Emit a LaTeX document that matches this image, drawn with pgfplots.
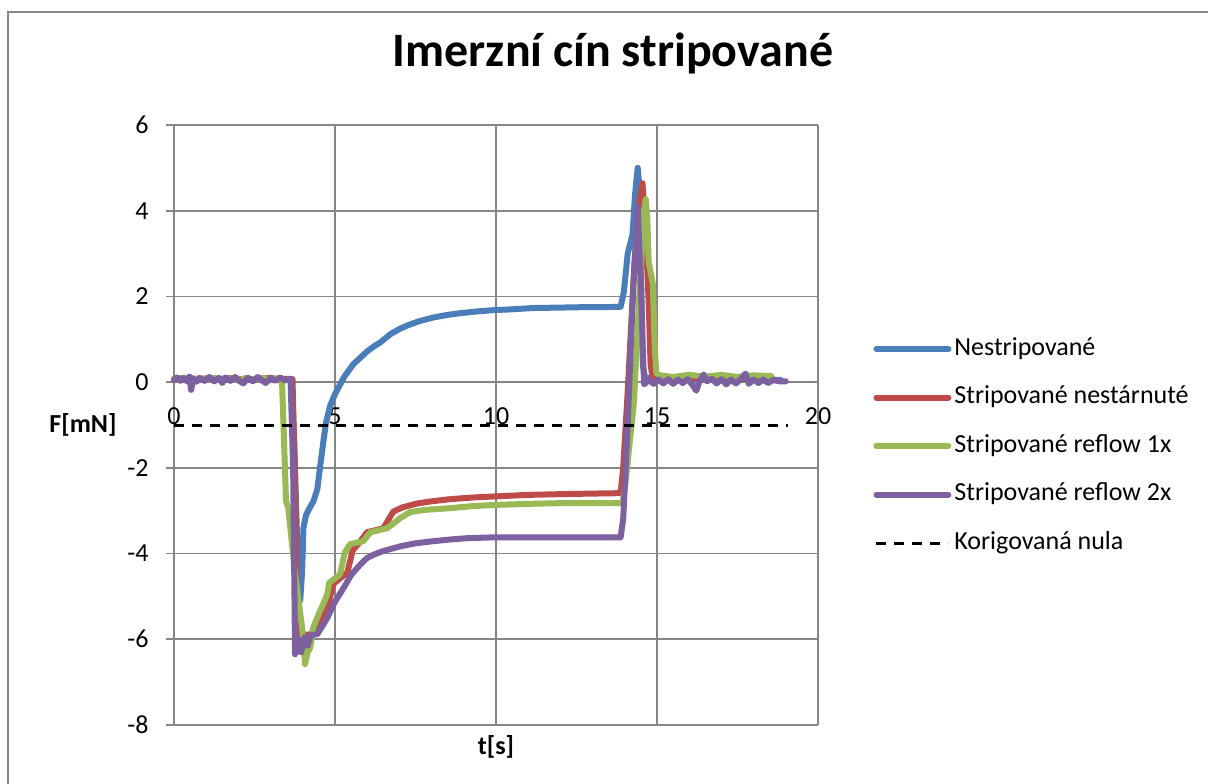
\documentclass[border=0pt]{standalone}
\usepackage{fontspec}
\setmainfont{Carlito}
\usepackage{pgfplots}
\usepackage{pgfplotstable}
\pgfplotsset{compat=1.18}

\definecolor{cBlue}{HTML}{4A7EBB}
\definecolor{cRed}{HTML}{BE4B48}
\definecolor{cGreen}{HTML}{98B954}
\definecolor{cPurple}{HTML}{7D60A0}
\definecolor{gridgray}{HTML}{868686}

% t [s]   F [mN]
\pgfplotstableread{
t F
0.00 0.06
0.25 0.09
0.50 0.04
0.75 0.08
1.00 0.05
1.25 0.09
1.50 0.05
1.75 0.08
2.00 0.04
2.25 0.08
2.50 0.06
2.75 0.09
3.00 0.05
3.25 0.08
3.50 0.06
3.66 0.07
3.74 -1.50
3.82 -3.60
3.92 -5.10
3.98 -4.40
4.02 -3.40
4.10 -3.10
4.20 -2.95
4.33 -2.78
4.45 -2.50
4.55 -1.90
4.64 -1.38
4.72 -0.95
4.85 -0.55
5.00 -0.28
5.16 -0.05
5.30 0.14
5.57 0.42
5.80 0.58
6.00 0.72
6.20 0.83
6.41 0.93
6.72 1.12
7.00 1.24
7.24 1.32
7.60 1.42
8.06 1.51
8.50 1.57
8.90 1.61
9.40 1.65
9.92 1.68
10.50 1.70
11.17 1.73
12.00 1.74
12.72 1.75
13.40 1.75
13.87 1.76
13.97 2.10
14.09 3.00
14.24 3.45
14.32 4.40
14.40 5.00
14.45 4.60
14.50 2.60
14.56 0.40
14.62 0.12
14.80 0.08
15.00 0.10
15.50 0.06
16.00 0.09
16.50 0.05
17.00 0.08
17.50 0.06
18.00 0.09
18.50 0.06
18.85 0.05
}\nestrip

\pgfplotstableread{
t F
0.00 0.08
0.25 0.05
0.50 0.10
0.75 0.06
1.00 0.09
1.25 0.05
1.50 0.08
1.75 0.10
2.00 0.06
2.25 0.09
2.50 0.05
2.75 0.08
3.00 0.10
3.25 0.06
3.50 0.08
3.68 0.07
3.76 -2.50
3.84 -6.30
3.95 -6.20
4.01 -5.88
4.20 -5.90
4.45 -5.74
4.60 -5.50
4.76 -5.27
4.95 -4.71
5.20 -4.55
5.38 -4.45
5.55 -3.92
5.75 -3.75
6.00 -3.50
6.50 -3.41
6.81 -3.02
7.10 -2.92
7.56 -2.83
8.00 -2.78
8.58 -2.73
9.30 -2.69
10.14 -2.66
11.00 -2.63
12.22 -2.61
13.00 -2.60
13.87 -2.59
13.95 -2.00
14.10 -0.10
14.30 2.80
14.45 4.20
14.55 4.64
14.65 3.45
14.74 1.89
14.80 0.42
14.86 0.12
15.00 0.10
15.50 0.07
16.00 0.11
16.50 0.06
17.00 0.10
17.50 0.07
18.00 0.11
18.60 0.08
}\nestarnute

\pgfplotstableread{
t F
0.00 0.07
0.25 0.10
0.50 0.05
0.75 0.09
1.00 0.06
1.25 0.10
1.50 0.06
1.75 0.09
2.00 0.05
2.25 0.09
2.50 0.06
2.75 0.10
3.00 0.06
3.20 0.09
3.33 0.07
3.36 -0.10
3.48 -2.78
3.55 -2.94
3.75 -4.40
3.98 -5.74
4.07 -6.58
4.15 -6.30
4.23 -6.20
4.32 -5.74
4.50 -5.40
4.62 -5.20
4.76 -4.95
4.82 -4.68
5.00 -4.58
5.16 -4.48
5.30 -3.98
5.47 -3.78
5.88 -3.71
6.10 -3.50
6.62 -3.41
7.03 -3.17
7.34 -3.03
7.80 -2.98
8.58 -2.94
9.30 -2.89
10.14 -2.86
11.00 -2.84
12.22 -2.82
13.00 -2.82
13.93 -2.82
14.00 -2.50
14.28 -0.50
14.45 2.00
14.60 4.00
14.65 4.27
14.70 3.80
14.74 2.82
14.87 2.29
14.93 0.80
14.98 0.20
15.10 0.16
15.50 0.12
16.00 0.17
16.50 0.13
17.00 0.17
17.50 0.12
18.00 0.16
18.55 0.14
}\reflowA

\pgfplotstableread{
t F
0.00 0.05
0.10 0.11
0.20 0.03
0.30 0.10
0.40 0.02
0.48 0.13
0.53 -0.18
0.60 0.08
0.70 0.01
0.80 0.10
0.95 0.03
1.10 0.12
1.25 0.02
1.40 0.10
1.50 -0.02
1.60 0.11
1.75 0.03
1.90 0.12
2.05 0.02
2.15 -0.03
2.30 0.10
2.45 0.02
2.60 0.12
2.75 0.03
2.85 -0.02
3.00 0.10
3.15 0.03
3.30 0.11
3.45 0.04
3.62 0.08
3.70 -2.00
3.76 -6.35
3.86 -6.00
3.95 -6.30
4.05 -5.95
4.15 -6.15
4.25 -5.90
4.45 -5.88
4.60 -5.70
4.76 -5.50
5.00 -5.12
5.26 -4.81
5.50 -4.50
5.79 -4.25
6.00 -4.10
6.25 -4.01
6.50 -3.94
7.03 -3.83
7.50 -3.76
8.06 -3.71
8.60 -3.67
9.11 -3.64
10.00 -3.62
11.17 -3.62
12.50 -3.62
13.87 -3.62
13.95 -3.20
14.10 -0.80
14.25 2.00
14.40 4.10
14.50 2.29
14.56 0.72
14.60 -0.05
14.75 0.05
14.90 -0.04
15.05 0.06
15.20 -0.03
15.35 0.07
15.50 -0.04
15.65 0.06
15.80 -0.02
15.95 0.07
16.10 -0.06
16.22 -0.20
16.32 0.02
16.45 0.18
16.55 0.02
16.70 0.08
16.85 -0.03
17.00 0.07
17.15 -0.05
17.30 0.06
17.45 -0.03
17.60 0.07
17.75 0.20
17.85 -0.04
18.00 0.06
18.15 -0.02
18.30 0.06
18.45 -0.02
18.60 0.05
18.80 0.02
19.00 0.02
}\reflowB

\begin{document}
\begin{tikzpicture}
\useasboundingbox (0,0) rectangle (604pt,391.5pt);
% chart area border
\draw[color=gridgray, line width=1pt] (4pt,-5pt) -- (4pt,385.5pt) -- (615pt,385.5pt);
\begin{axis}[
  at={(87pt,29pt)}, anchor=south west,
  scale only axis, width=322pt, height=300pt,
  xmin=0, xmax=20, ymin=-8, ymax=6,
  xtick={0,5,...,20}, ytick={-8,-6,...,6},
  axis line style={draw=none},
  grid=major,
  grid style={color=gridgray, line width=0.8pt},
  ytick pos=left, xtick pos=bottom,
  tick align=outside, major tick length=4pt,
  tick style={color=gridgray, line width=0.8pt},
  xtick style={draw=none},
  tick label style={font=\fontsize{13}{15}\selectfont},
  /pgf/number format/assume math mode=true,
  yticklabel style={anchor=east, inner sep=0pt, xshift=-8.5pt},
  xticklabel style={anchor=north, inner sep=0pt, yshift=163pt},
  title={Imerzní cín stripované},
  title style={at={(axis description cs:0.6817,1.0783)}, anchor=base,
    font=\bfseries\fontsize{24}{28}\selectfont},
  xlabel={t[s]},
  xlabel style={at={(axis description cs:0.5,-0.0367)}, anchor=center,
    font=\bfseries\fontsize{13}{15}\selectfont},
  ylabel={F[mN]},
  ylabel style={at={(axis description cs:-0.1413,0.5)}, rotate=-90, anchor=center,
    font=\bfseries\fontsize{13}{15}\selectfont},
  legend style={at={(1.0854,0.465)}, anchor=west, draw=none, fill=none,
    inner sep=0pt, row sep=11.25pt, column sep=0pt,
    font=\fontsize{13}{15}\selectfont,
    nodes={inner xsep=1.5pt, inner ysep=0pt, text height=9.5pt, text depth=3.5pt}},
  legend cell align=left,
  legend image code/.code={\draw[#1] (0pt,0pt) -- (36pt,0pt);},
  clip=false,
]
\addplot[color=cBlue, line width=3pt, line join=round, line cap=round] table[x=t,y=F] {\nestrip};
\addlegendentry{Nestripované}
\addplot[color=cRed, line width=3pt, line join=round, line cap=round] table[x=t,y=F] {\nestarnute};
\addlegendentry{Stripované nestárnuté}
\addplot[color=cGreen, line width=3pt, line join=round, line cap=round] table[x=t,y=F] {\reflowA};
\addlegendentry{Stripované reflow 1x}
\addplot[color=cPurple, line width=3pt, line join=round, line cap=round] table[x=t,y=F] {\reflowB};
\addlegendentry{Stripované reflow 2x}
\addplot[color=black, line width=1.5pt, dash pattern=on 5pt off 4pt] coordinates {(0,-1) (19.07,-1)};
\addlegendentry{Korigovaná nula}
\end{axis}
\end{tikzpicture}
\end{document}
